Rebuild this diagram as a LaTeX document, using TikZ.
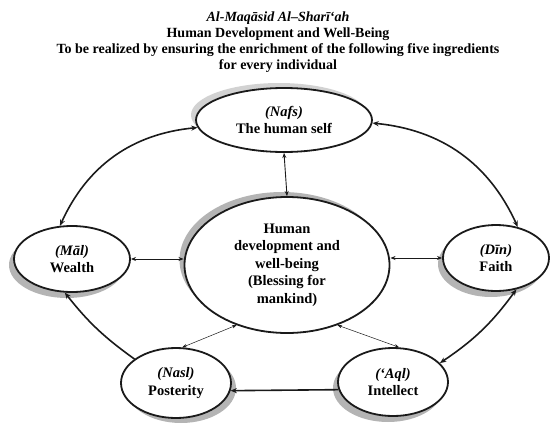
\documentclass[tikz,border=0pt]{standalone}
\usepackage{fontspec}
\setmainfont{Liberation Serif}
\usetikzlibrary{
  arrows.meta,
  shapes.geometric,
  positioning,
  shadows
}
\definecolor{maqShade}{HTML}{B4B4B4}
\definecolor{maqLight}{HTML}{D2D2D2}
\definecolor{maqInk}{HTML}{1A1A1A}
\tikzset{
  maqnode/.style={
    draw=maqInk, ellipse, line width=1.8pt, fill=white, inner sep=0pt,
    align=center, font=\fontsize{14.5}{17.5}\selectfont\bfseries
  },
  shadeUL/.style={drop shadow={shadow xshift=-5pt, shadow yshift=5pt, fill=#1, opacity=1}},
  shadeDL/.style={drop shadow={shadow xshift=-5pt, shadow yshift=-6pt, fill=maqShade, opacity=1}},
  shadeDR/.style={drop shadow={shadow xshift=5pt, shadow yshift=-5pt, fill=maqShade, opacity=1}},
  ring/.style={{Stealth[length=2.2mm, width=1.8mm]}-{Stealth[length=2.2mm, width=1.8mm]}, line width=1.6pt, maqInk},
  onering/.style={-{Stealth[length=2.2mm, width=1.8mm]}, line width=1.6pt, maqInk},
  spoke/.style={{Stealth[length=1.8mm, width=1.4mm]}-{Stealth[length=1.8mm, width=1.4mm]}, line width=0.9pt, maqInk},
  thinspoke/.style={{Stealth[length=1.6mm, width=1.2mm]}-{Stealth[length=1.6mm, width=1.2mm]}, line width=0.5pt, maqInk},
  headline/.style={font=\fontsize{14}{16}\selectfont\bfseries, align=center, inner sep=0pt}
}

\begin{document}
\begin{tikzpicture}[x=1pt, y=1pt]
  \useasboundingbox (0,0) rectangle (551,-423);

  \node[headline] (title) at (278,-42)
    {\textit{Al-Maqāsid Al--Sharī‘ah}\\
     Human Development and Well-Being\\
     To be realized by ensuring the enrichment of the following five ingredients\\
     for every individual};

  % the five ingredients round the centre
  \node[maqnode, shadeUL=maqLight, minimum width=176pt, minimum height=64pt] (nafs) at (284,-120)
    {\textit{(Nafs)}\\The human self};
  \node[maqnode, shadeUL=maqShade, minimum width=205pt, minimum height=136pt] (hub) at (287,-265)
    {Human\\development and\\well-being\\(Blessing for\\mankind)};
  \node[maqnode, shadeDL, minimum width=116pt, minimum height=66pt] (mal) at (72,-259)
    {\textit{(Māl)}\\Wealth};
  \node[maqnode, shadeDL, minimum width=106pt, minimum height=66pt] (din) at (496,-258)
    {\textit{(Dīn)}\\Faith};
  \node[maqnode, shadeDR, minimum width=110pt, minimum height=70pt] (nasl) at (176,-383)
    {\textit{(Nasl)}\\Posterity};
  \node[maqnode, shadeDL, minimum width=110pt, minimum height=68pt] (aql) at (393,-382)
    {\textit{(‘Aql)}\\Intellect};

  % links to the centre
  \draw[spoke] (nafs.south) -- (hub.north);
  \draw[spoke] (mal.east) -- (mal.east -| hub.west);
  \draw[spoke] (hub.east |- din.west) -- (din.west);
  \draw[thinspoke] (hub.230) -- (nasl.80);
  \draw[thinspoke] (hub.310) -- (aql.80);

  % outer ring
  \draw[ring] (nafs.185) to[bend right=30] (mal.110);
  \draw[ring] (nafs.358) to[bend left=30] (din.55);
  \draw[ring] (din.303) to[bend left=10] (aql.22);
  \draw[onering] (aql.188) -- (nasl.352);
  \draw[onering] (nasl.150) to[bend left=8] (mal.258);
\end{tikzpicture}
\end{document}
